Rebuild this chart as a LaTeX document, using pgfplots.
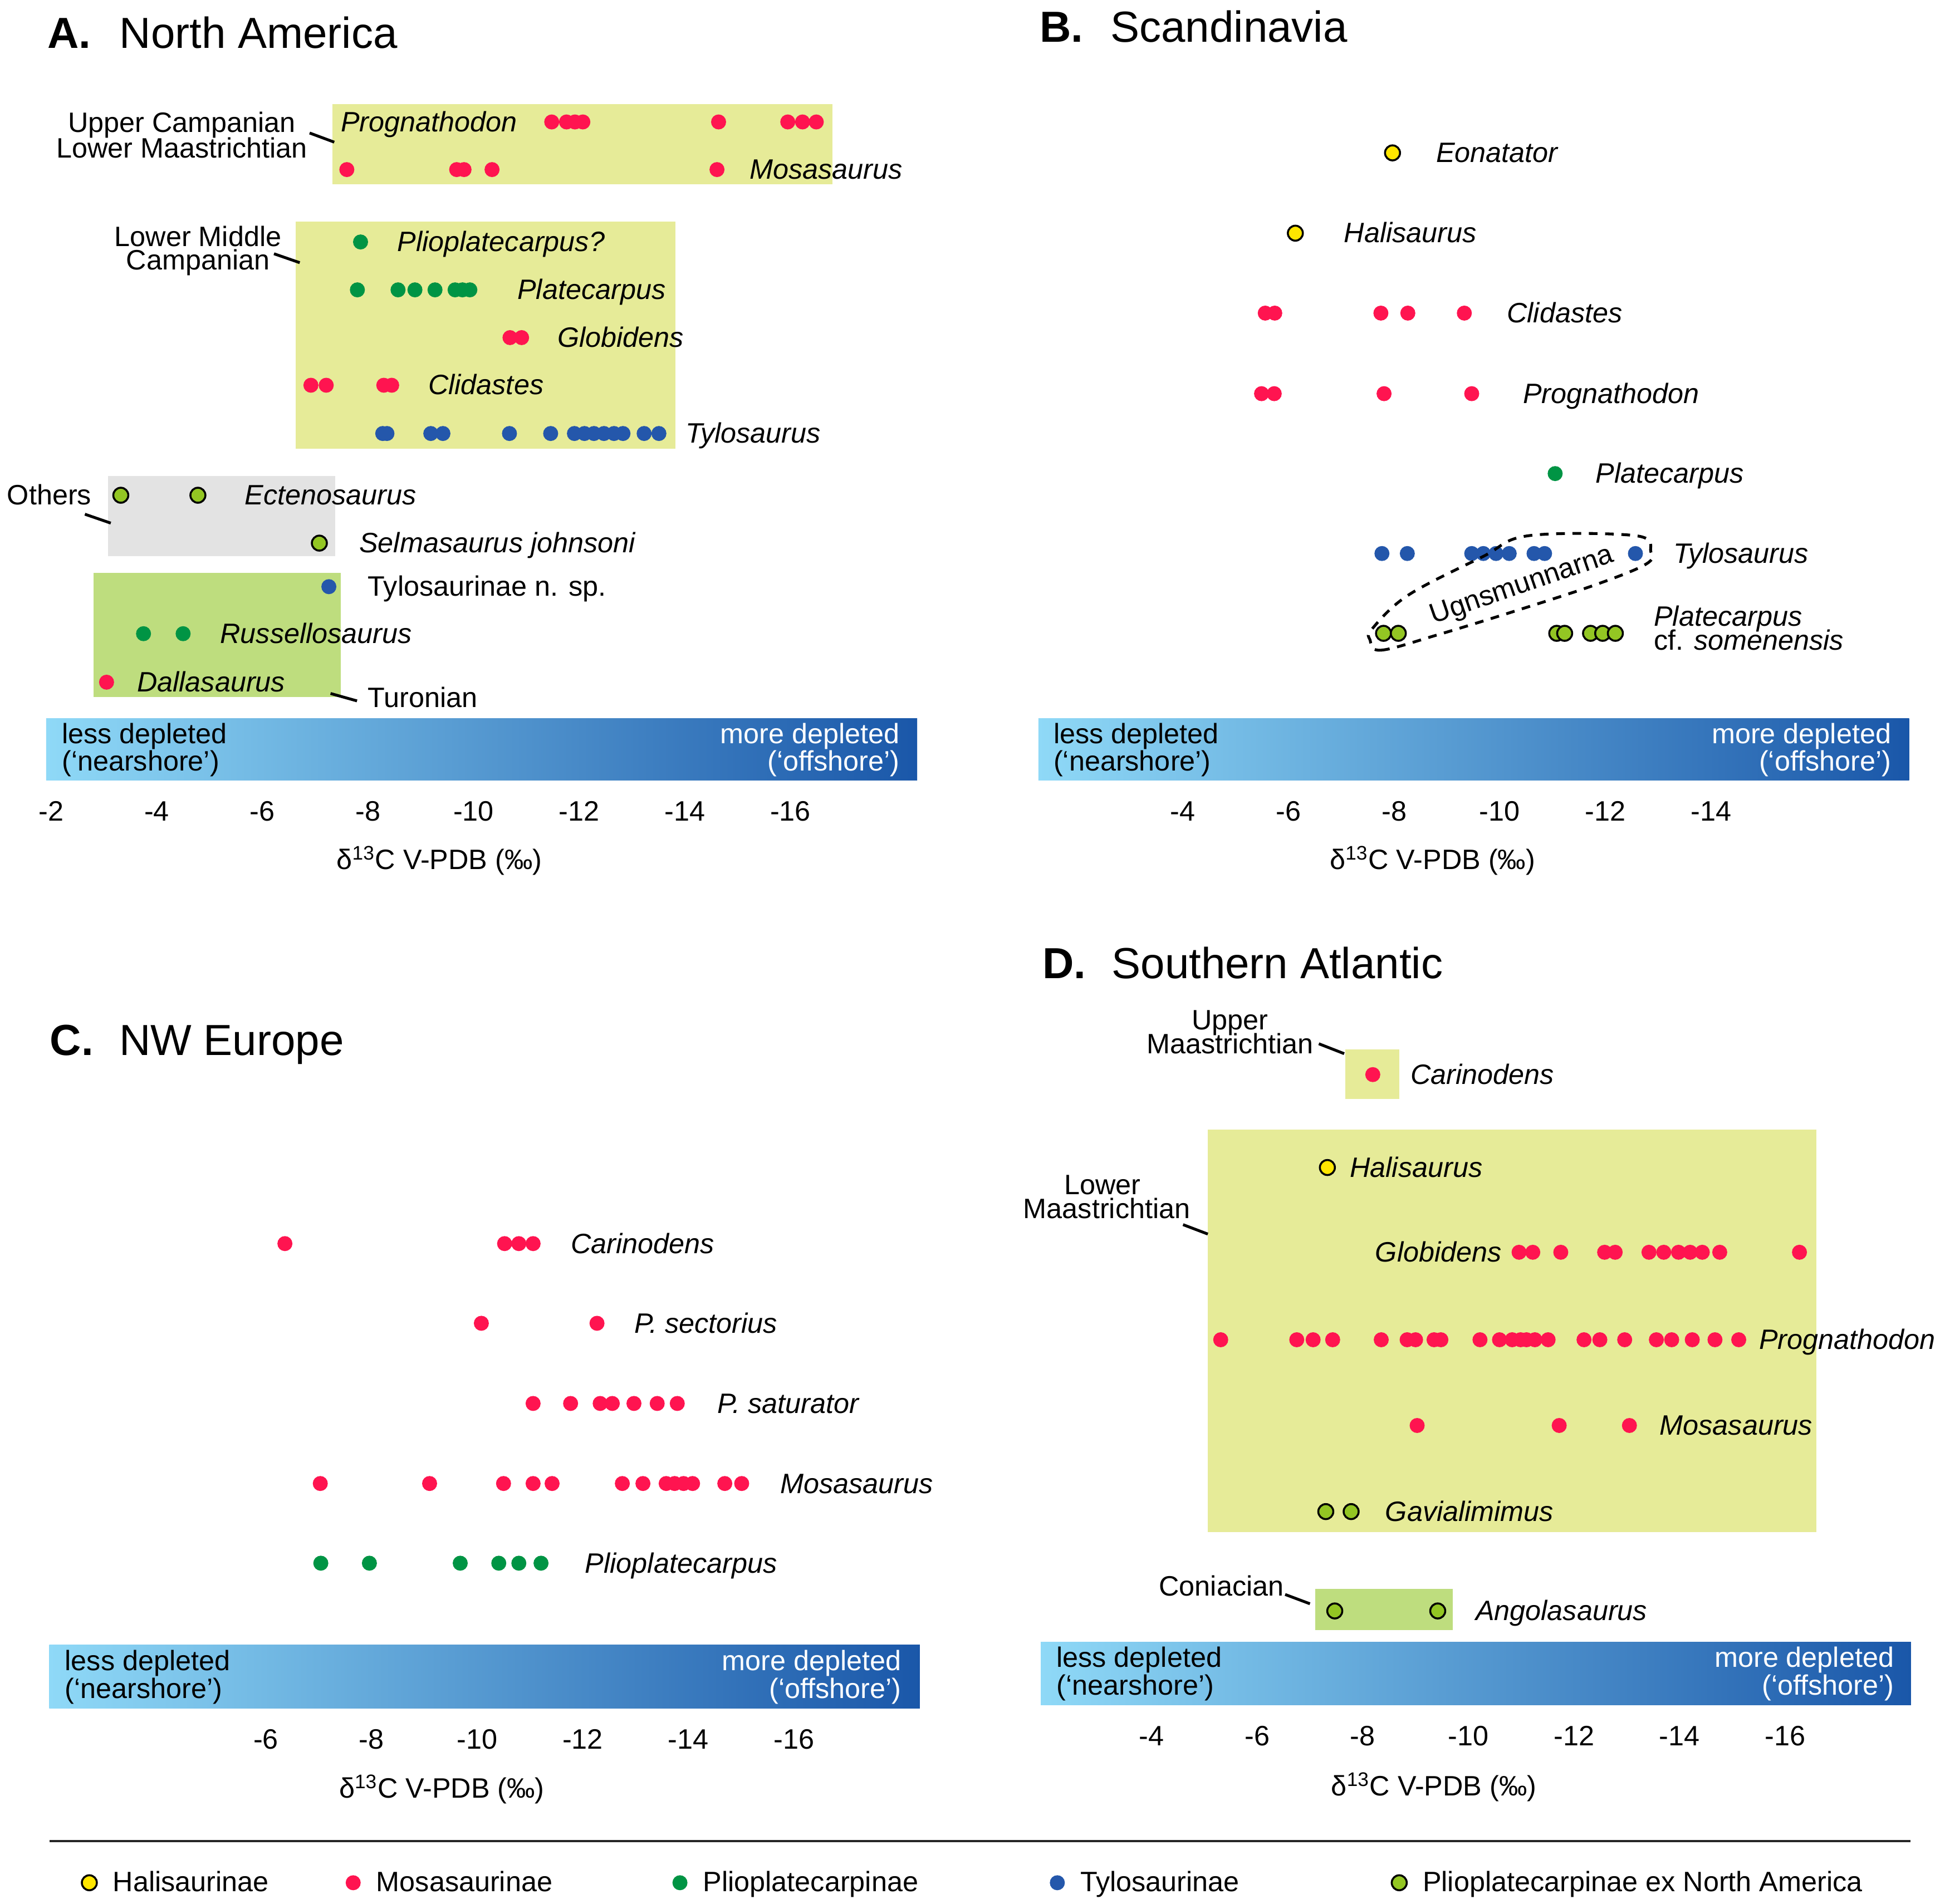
\documentclass[border=0pt]{standalone}
\usepackage{fontspec}
\setmainfont{Liberation Sans}
\usepackage{pgfplots}
\pgfplotsset{compat=1.18}

\definecolor{mosa}{HTML}{FF1450}
\definecolor{plio}{HTML}{009444}
\definecolor{tylo}{HTML}{2457AB}
\definecolor{hali}{HTML}{FFE600}
\definecolor{plna}{HTML}{93C623}
\definecolor{boxY}{HTML}{E6EB98}
\definecolor{boxG}{HTML}{BEDD7E}
\definecolor{boxGr}{HTML}{E3E3E3}
\definecolor{barL}{HTML}{8FD9F7}
\definecolor{barM}{HTML}{5F9ED7}
\definecolor{barR}{HTML}{1A57A9}

\newcommand\lbl{\fontsize{12.9}{14}\selectfont}
\newcommand\ttl{\fontsize{20}{24}\selectfont}

% marker styles (tikz keys, so legends can use them too)
\tikzset{
  mR/.style={mark=*, color=mosa, mark size=3.25pt},
  mG/.style={mark=*, color=plio, mark size=3.25pt},
  mB/.style={mark=*, color=tylo, mark size=3.25pt},
  mY/.style={mark=*, mark size=3.45pt, mark options={draw=black, fill=hali, line width=0.9pt}},
  mL/.style={mark=*, mark size=3.45pt, mark options={draw=black, fill=plna, line width=0.9pt}},
  lab/.style={anchor=base west, inner sep=0pt, font=\lbl},
  grp/.style={anchor=base, inner sep=0pt, font=\lbl},
  lead/.style={line width=1.3pt, black},
}

\pgfplotsset{
  panel/.style={anchor=south west, scale only axis, clip=false,
    x dir=reverse, x=0.8536cm, y=0.02cm,
    axis x line*=bottom, axis y line=none, ytick=\empty,
    x axis line style={draw=none}, major tick length=0pt,
    xticklabel style={font=\lbl, anchor=base, yshift=-18.8pt},
    /pgf/number format/assume math mode=true},
  legbox/.style={hide axis, scale only axis, width=1cm, height=1cm,
    xmin=0, xmax=1, ymin=0, ymax=1, anchor=west,
    legend style={draw=none, fill=none, at={(0,0.5)}, anchor=west,
      inner sep=0pt, font=\lbl, nodes={inner sep=0pt}, /tikz/column sep=0.26cm},
    legend image code/.code={\draw[##1] plot coordinates {(0cm,0cm)};}},
}

% species label: x, row y (px), text
\newcommand\spl[3]{\node[lab] at (#1,#2+7.5) {\itshape #3};}
\newcommand\upl[3]{\node[lab] at (#1,#2+7.5) {#3};}
% gradient bar: x1, y1, x2, y2, left text x, right text x, baseline 1, baseline 2
\newcommand\depbar[8]{%
  \shade[left color=barL, middle color=barM, right color=barR] (#1,#2) rectangle (#3,#4);
  \node[lab] at (#5,#7) {less depleted};
  \node[lab] at (#5,#8) {(‘nearshore’)};
  \node[lab, anchor=base east, text=white] at (#6,#7) {more depleted};
  \node[lab, anchor=base east, text=white] at (#6,#8) {(‘offshore’)};}

\begin{document}
\begin{tikzpicture}

% ---------- backgrounds (pixel grid of the reference, y down) ----------
\begin{scope}[x=0.02cm, y=-0.02cm]
  \fill[boxY] (268.6,84.1) rectangle (672.5,149.1);
  \fill[boxY] (238.8,179.1) rectangle (545.7,362.6);
  \fill[boxGr] (87.5,384.7) rectangle (271.1,449.6);
  \fill[boxG] (75.6,463.1) rectangle (275.6,563.4);
  \fill[boxY] (1087.2,848.2) rectangle (1130.6,888.4);
  \fill[boxY] (976,912.9) rectangle (1467.8,1238.5);
  \fill[boxG] (1062.8,1284) rectangle (1174,1317.3);
  \depbar{37.3}{580.6}{741.1}{630.5}{49.7}{727.2}{600.8}{623.2}
  \depbar{839.1}{580.6}{1542.7}{630.5}{851}{1528.5}{600.8}{623.2}
  \depbar{39.8}{1329.2}{743.3}{1380.9}{52.2}{728.7}{1350}{1372.5}
  \depbar{841.0}{1327}{1544.2}{1378}{853.4}{1530.8}{1347.4}{1369.8}
\end{scope}

% ---------- A. North America ----------
\begin{axis}[panel, at={(0.746cm,-12.61cm)}, xmin=-18.389, xmax=-1.906,
  ymin=-630.5, ymax=-60, xtick={-2,-4,...,-16}]
\addplot[only marks, mR] coordinates { % Prognathodon
  (-11.48,-98.7) (-11.76,-98.7) (-11.92,-98.7) (-12.07,-98.7)
  (-14.64,-98.7) (-15.95,-98.7) (-16.23,-98.7) (-16.49,-98.7)};
\addplot[only marks, mR] coordinates { % Mosasaurus
  (-7.60,-137.2) (-9.68,-137.2) (-9.82,-137.2) (-10.35,-137.2) (-14.61,-137.2)};
\addplot[only marks, mG] coordinates {(-7.86,-195.7)}; % Plioplatecarpus?
\addplot[only marks, mG] coordinates { % Platecarpus
  (-7.80,-234.4) (-8.57,-234.4) (-8.89,-234.4) (-9.27,-234.4)
  (-9.65,-234.4) (-9.79,-234.4) (-9.93,-234.4)};
\addplot[only marks, mR] coordinates {(-10.69,-273) (-10.91,-273)}; % Globidens
\addplot[only marks, mR] coordinates { % Clidastes
  (-6.92,-311.5) (-7.21,-311.5) (-8.30,-311.5) (-8.45,-311.5)};
\addplot[only marks, mB] coordinates { % Tylosaurus
  (-8.28,-350.5) (-8.36,-350.5) (-9.19,-350.5) (-9.42,-350.5) (-10.68,-350.5)
  (-11.46,-350.5) (-11.91,-350.5) (-12.10,-350.5) (-12.28,-350.5) (-12.47,-350.5)
  (-12.66,-350.5) (-12.83,-350.5) (-13.23,-350.5) (-13.51,-350.5)};
\addplot[only marks, mL] coordinates {(-3.32,-400.4) (-4.78,-400.4)}; % Ectenosaurus
\addplot[only marks, mL] coordinates {(-7.08,-439.1)}; % Selmasaurus johnsoni
\addplot[only marks, mB] coordinates {(-7.26,-474.3)}; % Tylosaurinae n. sp.
\addplot[only marks, mG] coordinates {(-3.75,-512.3) (-4.50,-512.3)}; % Russellosaurus
\addplot[only marks, mR] coordinates {(-3.05,-551.5)}; % Dallasaurus
\end{axis}

% ---------- B. Scandinavia ----------
\begin{axis}[panel, at={(16.782cm,-12.61cm)}, xmin=-17.743, xmax=-1.26,
  ymin=-630.5, ymax=-60, xtick={-4,-6,...,-14}]
\addplot[only marks, mY] coordinates {(-7.97,-123.7)}; % Eonatator
\addplot[only marks, mY] coordinates {(-6.13,-188.6)}; % Halisaurus
\addplot[only marks, mR] coordinates { % Clidastes
  (-5.56,-253.2) (-5.74,-253.2) (-7.75,-253.2) (-8.26,-253.2) (-9.33,-253.2)};
\addplot[only marks, mR] coordinates { % Prognathodon
  (-5.49,-318.3) (-5.73,-318.3) (-7.81,-318.3) (-9.47,-318.3)};
\addplot[only marks, mG] coordinates {(-11.05,-382.9)}; % Platecarpus
\addplot[only marks, mB] coordinates { % Tylosaurus
  (-7.77,-447.5) (-8.25,-447.5) (-9.47,-447.5) (-9.69,-447.5) (-9.93,-447.5)
  (-10.18,-447.5) (-10.65,-447.5) (-10.85,-447.5) (-12.57,-447.5)};
\addplot[only marks, mL] coordinates { % Platecarpus cf. somenensis
  (-7.80,-512) (-8.08,-512) (-11.08,-512) (-11.23,-512)
  (-11.72,-512) (-11.95,-512) (-12.19,-512)};
\end{axis}

% ---------- C. NW Europe ----------
\begin{axis}[panel, at={(0.796cm,-27.618cm)}, xmin=-18.38, xmax=-1.897,
  ymin=-1380.9, ymax=-950, xtick={-6,-8,...,-16}]
\addplot[only marks, mR] coordinates { % Carinodens
  (-6.36,-1005.4) (-10.52,-1005.4) (-10.79,-1005.4) (-11.06,-1005.4)};
\addplot[only marks, mR] coordinates {(-10.08,-1069.8) (-12.27,-1069.8)}; % P. sectorius
\addplot[only marks, mR] coordinates { % P. saturator
  (-11.06,-1134.6) (-11.77,-1134.6) (-12.33,-1134.6) (-12.56,-1134.6)
  (-12.97,-1134.6) (-13.41,-1134.6) (-13.79,-1134.6)};
\addplot[only marks, mR] coordinates { % Mosasaurus
  (-7.03,-1199.3) (-9.10,-1199.3) (-10.50,-1199.3) (-11.06,-1199.3) (-11.42,-1199.3)
  (-12.75,-1199.3) (-13.14,-1199.3) (-13.58,-1199.3) (-13.74,-1199.3) (-13.91,-1199.3)
  (-14.08,-1199.3) (-14.69,-1199.3) (-15.01,-1199.3)};
\addplot[only marks, mG] coordinates { % Plioplatecarpus
  (-7.04,-1263.7) (-7.96,-1263.7) (-9.68,-1263.7) (-10.41,-1263.7)
  (-10.79,-1263.7) (-11.21,-1263.7)};
\end{axis}

% ---------- D. Southern Atlantic ----------
\begin{axis}[panel, at={(16.82cm,-27.56cm)}, xmin=-18.381, xmax=-1.898,
  ymin=-1378, ymax=-800, xtick={-4,-6,...,-16}]
\addplot[only marks, mR] coordinates {(-8.19,-868.8)}; % Carinodens
\addplot[only marks, mY] coordinates {(-7.33,-943.9)}; % Halisaurus
\addplot[only marks, mR] coordinates { % Globidens
  (-10.96,-1012.4) (-11.22,-1012.4) (-11.75,-1012.4) (-12.58,-1012.4) (-12.78,-1012.4)
  (-13.42,-1012.4) (-13.70,-1012.4) (-13.98,-1012.4) (-14.20,-1012.4) (-14.43,-1012.4)
  (-14.76,-1012.4) (-16.27,-1012.4)};
\addplot[only marks, mR] coordinates { % Prognathodon
  (-5.31,-1083.1) (-6.75,-1083.1) (-7.06,-1083.1) (-7.43,-1083.1) (-8.35,-1083.1)
  (-8.84,-1083.1) (-9.00,-1083.1) (-9.35,-1083.1) (-9.48,-1083.1) (-10.22,-1083.1)
  (-10.59,-1083.1) (-10.83,-1083.1) (-10.99,-1083.1) (-11.10,-1083.1) (-11.26,-1083.1)
  (-11.51,-1083.1) (-12.19,-1083.1) (-12.49,-1083.1) (-12.96,-1083.1) (-13.56,-1083.1)
  (-13.85,-1083.1) (-14.24,-1083.1) (-14.67,-1083.1) (-15.12,-1083.1)};
\addplot[only marks, mR] coordinates { % Mosasaurus
  (-9.03,-1152.4) (-11.72,-1152.4) (-13.05,-1152.4)};
\addplot[only marks, mL] coordinates {(-7.30,-1222) (-7.78,-1222)}; % Gavialimimus
\addplot[only marks, mL] coordinates {(-7.47,-1302.3) (-9.42,-1302.3)}; % Angolasaurus
\end{axis}

% ---------- legend ----------
\begin{axis}[legbox, at={(1.316cm,-30.44cm)}]
\addlegendimage{only marks, mY}\addlegendentry{Halisaurinae}
\end{axis}
\begin{axis}[legbox, at={(5.588cm,-30.44cm)}]
\addlegendimage{only marks, mR}\addlegendentry{Mosasaurinae}
\end{axis}
\begin{axis}[legbox, at={(10.87cm,-30.44cm)}]
\addlegendimage{only marks, mG}\addlegendentry{Plioplatecarpinae}
\end{axis}
\begin{axis}[legbox, at={(16.97cm,-30.44cm)}]
\addlegendimage{only marks, mB}\addlegendentry{Tylosaurinae}
\end{axis}
\begin{axis}[legbox, at={(22.49cm,-30.44cm)}]
\addlegendimage{only marks, mL}\addlegendentry{Plioplatecarpinae ex North America}
\end{axis}

% ---------- text, leaders ----------
\begin{scope}[x=0.02cm, y=-0.02cm]
  % titles
  \node[lab, font=\ttl\bfseries] at (38.1,39) {A.};
  \node[lab, font=\ttl] at (96.3,39) {North America};
  \node[lab, font=\ttl\bfseries] at (840,34) {B.};
  \node[lab, font=\ttl] at (897,34) {Scandinavia};
  \node[lab, font=\ttl\bfseries] at (40,853) {C.};
  \node[lab, font=\ttl] at (96,853) {NW Europe};
  \node[lab, font=\ttl\bfseries] at (842,791) {D.};
  \node[lab, font=\ttl] at (898,791) {Southern Atlantic};

  % x labels
  \node[grp] at (355,702.6) {δ\textsuperscript{13}C V-PDB (‰)};
  \node[grp] at (1157.6,702.6) {δ\textsuperscript{13}C V-PDB (‰)};
  \node[grp] at (357,1453) {δ\textsuperscript{13}C V-PDB (‰)};
  \node[grp] at (1158.7,1451.5) {δ\textsuperscript{13}C V-PDB (‰)};

  % A labels
  \spl{275.1}{98.7}{Prognathodon}
  \spl{605.4}{137.2}{Mosasaurus}
  \spl{320.8}{195.7}{Plioplatecarpus?}
  \spl{417.8}{234.4}{Platecarpus}
  \spl{450.2}{273}{Globidens}
  \spl{345.7}{311.5}{Clidastes}
  \spl{553.6}{350.5}{Tylosaurus}
  \spl{197.5}{400.4}{Ectenosaurus}
  \spl{290}{439.1}{Selmasaurus johnsoni}
  \upl{297}{474.3}{Tylosaurinae n. sp.}
  \spl{177.6}{512.3}{Russellosaurus}
  \spl{110.4}{551.5}{Dallasaurus}
  \node[grp] at (147,106.8) {Upper Campanian};
  \node[grp] at (147,127.5) {Lower Maastrichtian};
  \node[grp] at (160,199.2) {Lower Middle};
  \node[grp] at (160,218) {Campanian};
  \node[grp] at (39.8,408) {Others};
  \node[lab] at (297,571.6) {Turonian};
  \draw[lead] (250.2,107.5) -- (270.1,114.9);
  \draw[lead] (221.4,205.1) -- (242.2,212.3);
  \draw[lead] (68.6,415.6) -- (89.5,422.8);
  \draw[lead] (267.1,560.5) -- (288.5,566.5);

  % B labels
  \spl{1160.1}{123.7}{Eonatator}
  \spl{1085.7}{188.6}{Halisaurus}
  \spl{1217.4}{253.2}{Clidastes}
  \spl{1230.3}{318.3}{Prognathodon}
  \spl{1289}{382.9}{Platecarpus}
  \spl{1351.9}{447.5}{Tylosaurus}
  \node[lab] at (1336.2,506) {\itshape Platecarpus};
  \node[lab] at (1336.2,525.5) {cf. \itshape somenensis};
  \draw[line width=1.3pt, dash pattern=on 4pt off 3.5pt]
    plot[smooth cycle, tension=0.6] coordinates {(1107,517) (1116,525.5) (1162,513)
      (1227,493) (1291,472) (1330,456) (1334,446) (1322,433) (1235,433)
      (1198,450) (1138,481) (1109,508)};
  \node[font=\lbl, rotate=19, inner sep=0pt] at (1230,474) {Ugnsmunnarna};

  % C labels
  \spl{461.1}{1005.4}{Carinodens}
  \spl{512.3}{1069.8}{P. sectorius}
  \spl{579.5}{1134.6}{P. saturator}
  \spl{630.2}{1199.3}{Mosasaurus}
  \spl{472.5}{1263.7}{Plioplatecarpus}

  % D labels
  \spl{1139.6}{868.8}{Carinodens}
  \spl{1090.5}{943.9}{Halisaurus}
  \spl{1111}{1012.4}{Globidens}
  \spl{1421.1}{1083.1}{Prognathodon}
  \spl{1340.9}{1152.4}{Mosasaurus}
  \spl{1119.1}{1222}{Gavialimimus}
  \spl{1192.1}{1302.3}{Angolasaurus}
  \node[grp] at (994,832) {Upper};
  \node[grp] at (994,851.6) {Maastrichtian};
  \node[grp] at (891,965.3) {Lower};
  \node[grp] at (894.4,984.8) {Maastrichtian};
  \node[grp] at (987,1289.8) {Coniacian};
  \draw[lead] (1065.7,843.6) -- (1086.2,851.6);
  \draw[lead] (956,989.8) -- (976,997.4);
  \draw[lead] (1038.5,1288.7) -- (1058.5,1296.2);

  % separator above legend
  \draw[line width=0.9pt, black!85] (40,1488) -- (1544,1488);
\end{scope}

\pgfresetboundingbox
\path[use as bounding box] (0,0) rectangle (31.36cm,-30.78cm);
\end{tikzpicture}
\end{document}
